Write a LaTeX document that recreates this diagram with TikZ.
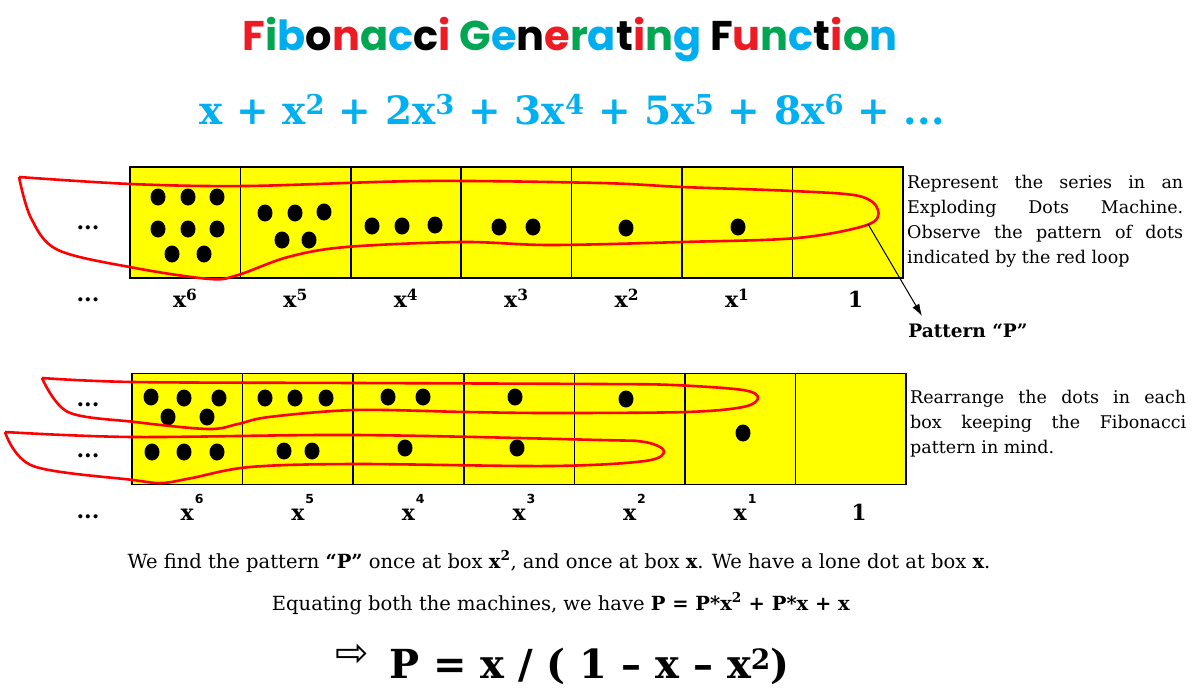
\documentclass[tikz,border=0pt]{standalone}
\usepackage{fontspec}
\usepackage{xcolor}
\usepackage{tikz}
\usetikzlibrary{arrows.meta, positioning, calc}
\setmainfont{DejaVu Serif}
\setsansfont{DejaVu Sans}
\newfontfamily\titlefont{Poppins}
\newfontfamily\symfont{DejaVu Sans}
\definecolor{titlered}{HTML}{ED1C24}
\definecolor{titlegreen}{HTML}{00A651}
\definecolor{titleblue}{HTML}{00AEEF}
\definecolor{seriesblue}{HTML}{00B0F0}
\definecolor{cellyellow}{HTML}{FFFF00}
\definecolor{loopred}{HTML}{FF0000}
\newcommand{\Rd}[1]{\textcolor{titlered}{#1}}
\newcommand{\Gn}[1]{\textcolor{titlegreen}{#1}}
\newcommand{\Bl}[1]{\textcolor{titleblue}{#1}}
\newcommand{\Bk}[1]{\textcolor{black}{#1}}
\hyphenpenalty=10000

\begin{document}
\begin{tikzpicture}[
    x=1pt, y=-1pt,
    cell/.style={rectangle, draw, line width=1.5pt, fill=cellyellow, minimum width=110.5pt, minimum height=111pt, inner sep=0pt},
    dot/.style={fill=black},
    loop/.style={draw=loopred, line width=2.6pt, line join=round},
    lbl/.style={font=\bfseries\fontsize{22}{22}\selectfont, inner sep=0pt, anchor=base},
    sup/.style={font=\sffamily\bfseries\fontsize{12.5}{12.5}\selectfont, inner sep=0pt, anchor=base west},
    more/.style={font=\bfseries\fontsize{22}{22}\selectfont, inner sep=0pt},
    note/.style={font=\fontsize{17.5}{25}\selectfont, text width=276pt, align=justify, inner sep=0pt, anchor=north west},
    line/.style={font=\fontsize{19.5}{19.5}\selectfont, inner sep=0pt, anchor=base},
    arrow/.style={-{Latex[length=12pt, width=8pt]}, line width=1pt}
]
\useasboundingbox (0,0) rectangle (1192,688);

% Title and series
\node[font=\titlefont\bfseries\fontsize{41.5}{41.5}\selectfont, anchor=base, inner sep=0pt] (title) at (570,50)
  {\Rd{F}\Gn{i}\Bl{b}\Bk{o}\Rd{n}\Gn{a}\Bl{c}\Bk{c}\Rd{i} \Gn{G}\Bl{e}\Bk{n}\Rd{e}\Gn{r}\Bl{a}\Bk{t}\Rd{i}\Gn{n}\Bl{g} \Bk{F}\Rd{u}\Gn{n}\Bl{c}\Bk{t}\Rd{i}\Gn{o}\Bl{n}};
\node[font=\bfseries\fontsize{39}{39}\selectfont, text=seriesblue, anchor=base, inner sep=0pt] (series) at (572,124)
  {x + x\textsuperscript{2} + 2x\textsuperscript{3} + 3x\textsuperscript{4} + 5x\textsuperscript{5} + 8x\textsuperscript{6} + ...};

% First machine
\foreach \i in {1,...,7}
  \node[cell] (top\i) at ({130+110.4*(\i-0.5)},222.5) {};
\foreach \i/\e in {1/6,2/5,3/4,4/3,5/2,6/1}
  \node[lbl] (toplbl\i) at ($(top\i.south)+(0,29)$) {x\textsuperscript{\e}};
\node[lbl] (toplbl7) at ($(top7.south)+(8,29)$) {1};
\node[more] (topmore) at (88,228) {...};
\node[more] (toplblmore) at (88,300) {...};

\foreach \px/\py in {158/197,188/197,217/197,158/229,188/229,217/229,172/254,204/254,
    265/213,295/213,324/212,282/240,309/240,372/226,402/226,435/225,499/227,533/227,626/228,738/227}
  \fill[dot] (\px,\py) ellipse [x radius=7.5pt, y radius=8.5pt];

\draw[loop] plot[smooth, tension=0.55] coordinates {(19,177) (131,184) (246,186) (423,181) (600,183)
  (682,187) (793,191) (859,196) (878,210) (867,225) (797,238) (682,242) (550,245) (462,242) (346,247)
  (288,257) (238,275) (210,279) (135,268) (58,250) (31,218) (19,177)};

\node[note] (topnote) at (907,175) {Represent the series in an\linebreak Exploding Dots Machine.\linebreak Observe the pattern of dots\linebreak indicated by the red loop};

% Pattern P
\coordinate (ploop) at (868,224);
\coordinate (ptip) at (922,316);
\node[font=\bfseries\fontsize{18.5}{18.5}\selectfont, inner sep=0pt, anchor=base] (patt) at (968,337) {Pattern “P”};
\draw[arrow] (ploop) -- (ptip);

% Second machine
\foreach \i in {1,...,7}
  \node[cell] (bot\i) at ({132+110.6*(\i-0.5)},429) {};
\foreach \i/\e in {1/6,2/5,3/4,4/3,5/2,6/1} {
  \node[lbl] (botlbl\i) at ($(bot\i.south)+(0,35)$) {x};
  \node[sup] (botsup\i) at ($(botlbl\i.base east)+(0.5,-17)$) {\e};
}
\node[lbl] (botlbl7) at ($(bot7.south)+(8,35)$) {1};
\node[more] (botmoreA) at (88,405) {...};
\node[more] (botmoreB) at (88,456) {...};
\node[more] (botlblmore) at (88,517) {...};

\foreach \px/\py in {151/397,184/398,219/398,168/417,207/417,152/452,184/452,217/452,
    265/398,295/398,326/398,284/451,312/451,388/397,423/397,405/448,515/397,517/448,626/399,743/433}
  \fill[dot] (\px,\py) ellipse [x radius=7.5pt, y radius=8.5pt];

\draw[loop] plot[smooth, tension=0.55] coordinates {(42,378) (133,382) (355,383) (600,384) (673,385)
  (743,390) (758,398) (743,407) (686,412) (550,413) (466,412) (355,410) (269,417) (238,424) (208,429)
  (135,422) (68,412) (42,378)};
\draw[loop] plot[smooth, tension=0.55] coordinates {(5,432) (133,437) (355,435) (600,440) (645,442)
  (664,451) (645,461) (550,466) (355,464) (250,467) (192,478) (162,483) (133,480) (33,466) (5,432)};

\node[note] (botnote) at (910,390) {Rearrange the dots in each\linebreak box keeping the Fibonacci\linebreak pattern in mind.};

% Conclusion
\node[line] (find) at (559,568) {We find the pattern \textbf{“P”} once at box \textbf{x\textsuperscript{2}}, and once at box \textbf{x}. We have a lone dot at box \textbf{x}.};
\node[line] (equate) at (561,610) {Equating both the machines, we have \textbf{P = P*x\textsuperscript{2} + P*x + x}};
\node[font=\symfont\fontsize{40}{40}\selectfont, inner sep=0pt, anchor=base] (impl) at (352,666) {⇨};
\node[font=\bfseries\fontsize{40}{40}\selectfont, inner sep=0pt, anchor=base west, right=20pt of impl.base east] (result) {P = x / ( 1 – x – x\textsuperscript{2})};
\end{tikzpicture}
\end{document}
